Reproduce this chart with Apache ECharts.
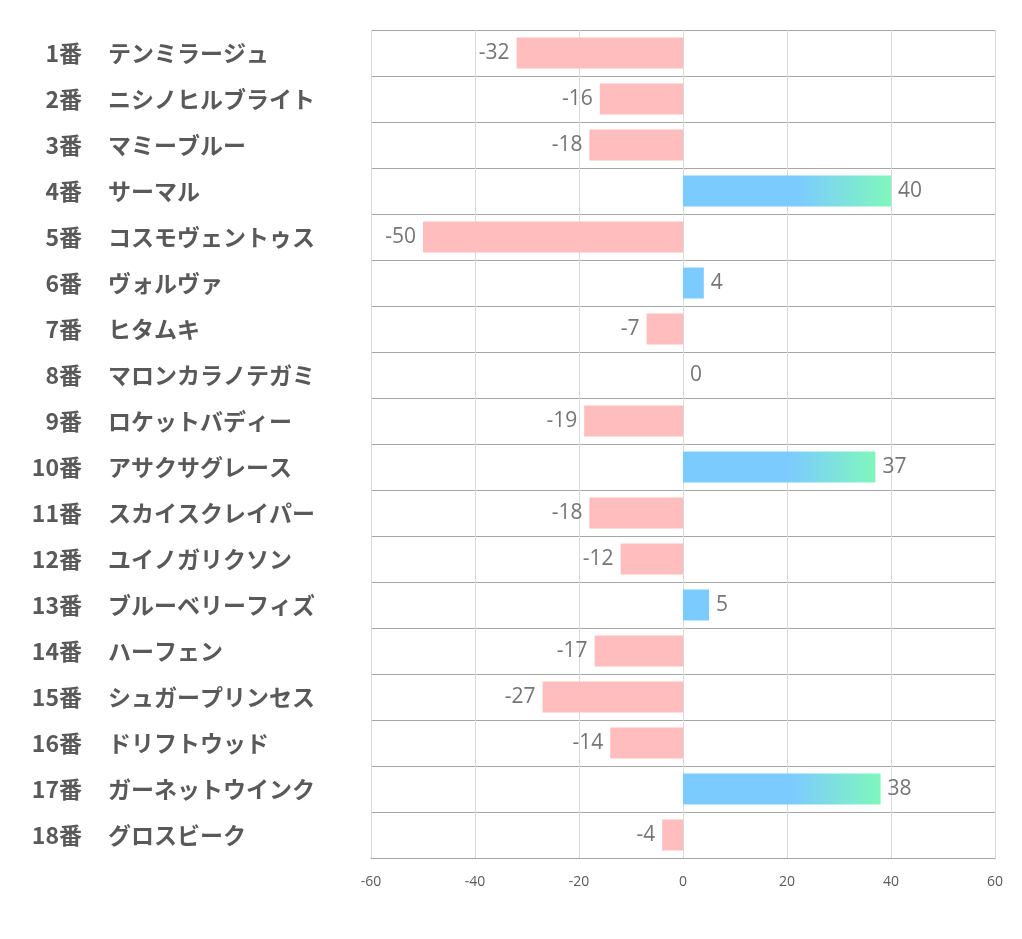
<!DOCTYPE html>
<html><head><meta charset="utf-8">
<script src="https://cdn.jsdelivr.net/npm/echarts@6/dist/echarts.min.js"></script>
<style>html,body{margin:0;padding:0;background:#fff}#c{width:1022px;height:939px}</style>
</head><body><div id="c"></div>
<script>
const numbers = ["1番","2番","3番","4番","5番","6番","7番","8番","9番","10番","11番","12番","13番","14番","15番","16番","17番","18番"];
const names = ["テンミラージュ","ニシノヒルブライト","マミーブルー","サーマル","コスモヴェントゥス","ヴォルヴァ","ヒタムキ","マロンカラノテガミ","ロケットバディー","アサクサグレース","スカイスクレイパー","ユイノガリクソン","ブルーベリーフィズ","ハーフェン","シュガープリンセス","ドリフトウッド","ガーネットウインク","グロスビーク"];
const values = [-32,-16,-18,40,-50,4,-7,0,-19,37,-18,-12,5,-17,-27,-14,38,-4];
const xTicks = [-60,-40,-20,0,20,40,60];

const PINK = '#ffbdbe', BLUE = '#7ccbff', GREEN = '#7ff7bd';
const seriesData = values.map(v => {
  let color;
  if (v < 0) color = PINK;
  else if (v >= 30) color = {type:'linear',x:0,y:0,x2:1,y2:0,colorStops:[{offset:0,color:BLUE},{offset:0.55,color:BLUE},{offset:1,color:GREEN}]};
  else color = BLUE;
  return {value:v, itemStyle:{color}, label:{position: v < 0 ? 'left' : 'right'}};
});

const labelFont = {fontSize:23,fontWeight:'bold',color:'#595959',fontFamily:'"Noto Sans CJK JP", sans-serif',padding:[0,0,5,0]};
const chart = echarts.init(document.getElementById('c'));
chart.setOption({
  animation:false,
  grid:{left:371,right:27,top:30,bottom:81,containLabel:false},
  xAxis:{type:'value',min:-60,max:60,interval:20,
    axisLine:{show:true,lineStyle:{color:'#a6a6a6'}},
    axisTick:{show:false},
    splitLine:{show:true,lineStyle:{color:'#d9d9d9'}},
    axisLabel:{color:'#595959',fontSize:14,margin:17,fontFamily:'Open Sans, sans-serif',
      formatter:v=>xTicks.includes(v)?String(v):''}},
  yAxis:[
    {type:'category',data:numbers,inverse:true,
      axisLine:{show:false},axisTick:{show:false},
      splitLine:{show:true,lineStyle:{color:'#a6a6a6'}},
      axisLabel:Object.assign({align:'right',margin:289},labelFont)},
    {type:'category',data:names,inverse:true,position:'left',
      axisLine:{show:false},axisTick:{show:false},splitLine:{show:false},
      axisLabel:Object.assign({align:'left',margin:263},labelFont)}
  ],
  series:[{type:'bar',data:seriesData,barWidth:31,yAxisIndex:0,
    label:{show:true,color:'#757575',fontSize:21,distance:7,padding:[5,0,0,0],fontFamily:'Open Sans, sans-serif'}}]
});
</script></body></html>
